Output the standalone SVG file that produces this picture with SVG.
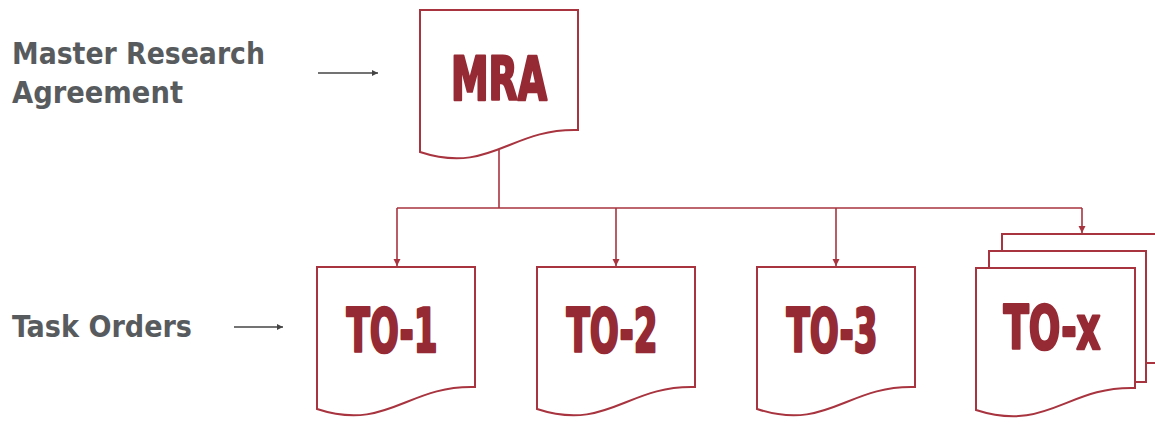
<svg xmlns="http://www.w3.org/2000/svg" width="1155" height="427" viewBox="0 0 1155 427">
<style>
.doc{fill:#fff;stroke:#a8343f;stroke-width:2;stroke-linejoin:miter}
.sheet{fill:none;stroke:#a8343f;stroke-width:2}
.conn{fill:none;stroke:#a8343f;stroke-width:1.6}
.big{font-family:"DejaVu Sans Condensed","DejaVu Sans",sans-serif;font-weight:bold;font-size:60px;fill:#962a34;stroke:#962a34;stroke-width:2.6;stroke-linejoin:round;text-anchor:middle}
.lbl{font-family:"DejaVu Sans Condensed","DejaVu Sans",sans-serif;font-weight:bold;font-size:30px;fill:#585b5e}
.garr{fill:none;stroke:#444;stroke-width:1.6}
</style>
<defs>
<marker id="ah" viewBox="0 0 10 10" refX="10" refY="5" markerWidth="7" markerHeight="8" markerUnits="userSpaceOnUse" orient="auto"><path d="M0,0 L10,5 L0,10 z" fill="#a8343f"/></marker>
<marker id="gh" viewBox="0 0 10 10" refX="10" refY="5" markerWidth="7" markerHeight="6" markerUnits="userSpaceOnUse" orient="auto"><path d="M0,0 L10,5 L0,10 z" fill="#444"/></marker>
</defs>
<g id="labels">
<text class="lbl" x="12" y="64" textLength="253" lengthAdjust="spacingAndGlyphs">Master Research</text>
<text class="lbl" x="12" y="103" textLength="171" lengthAdjust="spacingAndGlyphs">Agreement</text>
<text class="lbl" x="12" y="337" textLength="180" lengthAdjust="spacingAndGlyphs">Task Orders</text>
<line class="garr" x1="318" y1="73" x2="378" y2="73" marker-end="url(#gh)"/>
<line class="garr" x1="234" y1="327" x2="283" y2="327" marker-end="url(#gh)"/>
</g>
<g id="connectors">
<path class="conn" d="M499,150 V208 M397,208 H1082"/>
<line class="conn" x1="397" y1="208" x2="397" y2="266" marker-end="url(#ah)"/>
<line class="conn" x1="616" y1="208" x2="616" y2="266" marker-end="url(#ah)"/>
<line class="conn" x1="836" y1="208" x2="836" y2="266" marker-end="url(#ah)"/>
<line class="conn" x1="1082" y1="208" x2="1082" y2="233" marker-end="url(#ah)"/>
</g>
<g id="mra">
<path class="doc" d="M420,10 H578 V130 C510,128 490,175 420,152 Z"/>
<text class="big" x="499" y="100" textLength="96" lengthAdjust="spacingAndGlyphs">MRA</text>
</g>
<g id="to1">
<path class="doc" d="M317,267 H475 V387 C407,385 387,432 317,409 Z"/>
<text class="big" x="392" y="352" textLength="91" lengthAdjust="spacingAndGlyphs">TO-1</text>
</g>
<g id="to2">
<path class="doc" d="M537,267 H695 V387 C627,385 607,432 537,409 Z"/>
<text class="big" x="612" y="352" textLength="91" lengthAdjust="spacingAndGlyphs">TO-2</text>
</g>
<g id="to3">
<path class="doc" d="M757,267 H915 V387 C847,385 827,432 757,409 Z"/>
<text class="big" x="832" y="352" textLength="91" lengthAdjust="spacingAndGlyphs">TO-3</text>
</g>
<g id="tox">
<path class="sheet" d="M1002,251 V234 H1160 V363 H1146"/>
<path class="sheet" d="M989,268 V251 H1146 V382 H1135"/>
<path class="doc" d="M976,268 H1135 V388 C1067,386 1047,433 976,410 Z"/>
<text class="big" x="1052" y="349" textLength="97" lengthAdjust="spacingAndGlyphs">TO-x</text>
</g>
</svg>
